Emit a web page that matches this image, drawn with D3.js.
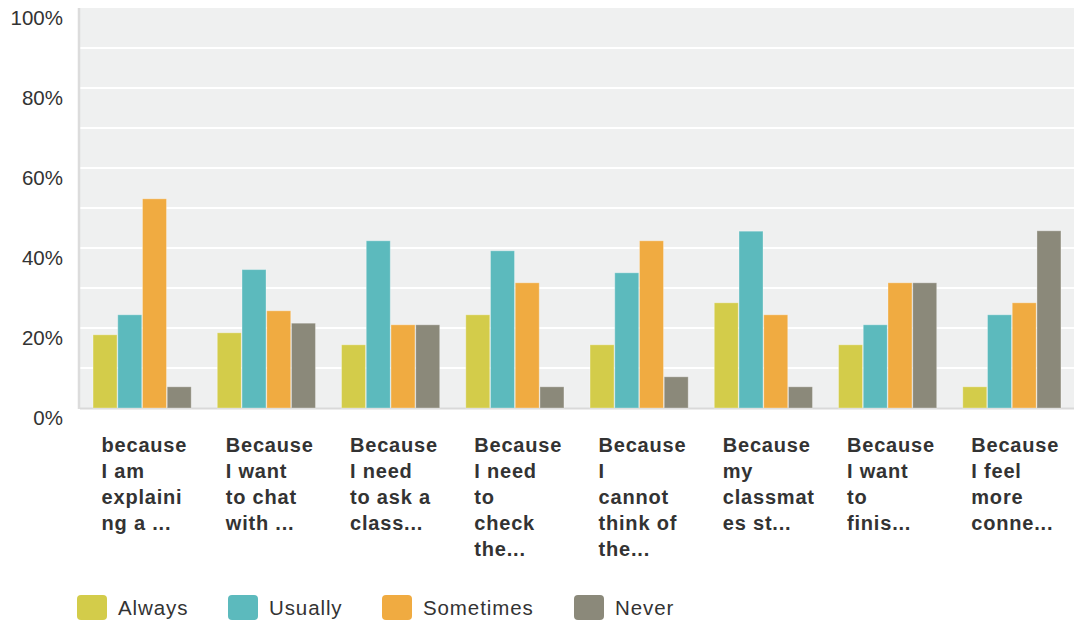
<!DOCTYPE html>
<html>
<head>
<meta charset="utf-8">
<script src="https://cdn.jsdelivr.net/npm/d3@7"></script>
<style>
  html, body { margin: 0; padding: 0; background: #ffffff; }
  svg { display: block; font-family: "Liberation Sans", Arial, Helvetica, sans-serif; }
</style>
</head>
<body>
<svg id="chart" width="1074" height="623"></svg>
<script>
// Survey reasons (wrapped label lines, as displayed)
const categoryLines = [
  ["because", "I am", "explaini", "ng a ..."],
  ["Because", "I want", "to chat", "with ..."],
  ["Because", "I need", "to ask a", "class..."],
  ["Because", "I need", "to", "check", "the..."],
  ["Because", "I", "cannot", "think of", "the..."],
  ["Because", "my", "classmat", "es st..."],
  ["Because", "I want", "to", "finis..."],
  ["Because", "I feel", "more", "conne..."]
];
const categories = categoryLines.map((d, i) => "q" + i);

const seriesNames = ["Always", "Usually", "Sometimes", "Never"];
const seriesColors = ["#d3cc4a", "#5cbabd", "#f0ab41", "#8b897a"];

// Percent of responses per reason
const always    = [18.3, 18.8, 15.8, 23.3, 15.8, 26.3, 15.8,  5.3];
const usually   = [23.3, 34.6, 41.8, 39.3, 33.8, 44.2, 20.8, 23.3];
const sometimes = [52.3, 24.3, 20.8, 31.3, 41.8, 23.3, 31.3, 26.3];
const never     = [ 5.3, 21.2, 20.8,  5.3,  7.8,  5.3, 31.3, 44.3];
const seriesValues = [always, usually, sometimes, never];

const yTicks = [0, 20, 40, 60, 80, 100];
const gridTicks = [10, 20, 30, 40, 50, 60, 70, 80, 90];

const svg = d3.select("#chart");
const plot = { left: 80, right: 1074, top: 8, bottom: 408 };

const x0 = d3.scaleBand()
  .domain(categories)
  .range([plot.left, plot.right])
  .paddingInner(0.21)
  .paddingOuter(0.105);

const x1 = d3.scaleBand()
  .domain(seriesNames)
  .range([0, x0.bandwidth()])
  .paddingInner(0.03);

const y = d3.scaleLinear().domain([0, 100]).range([plot.bottom, plot.top]);

// plot background
svg.append("rect")
  .attr("x", plot.left).attr("y", plot.top)
  .attr("width", plot.right - plot.left).attr("height", plot.bottom - plot.top)
  .attr("fill", "#eff0f0");

// horizontal gridlines
svg.append("g")
  .selectAll("line")
  .data(gridTicks)
  .join("line")
  .attr("x1", plot.left).attr("x2", plot.right)
  .attr("y1", d => y(d)).attr("y2", d => y(d))
  .attr("stroke", "#ffffff").attr("stroke-width", 2);

// y axis labels
const yAxis = d3.axisLeft(y)
  .tickValues(yTicks)
  .tickFormat(d => d + "%")
  .tickSize(0)
  .tickPadding(0);
const yG = svg.append("g").attr("transform", `translate(63,0)`).call(yAxis);
yG.select(".domain").remove();
yG.selectAll("text")
  .attr("font-size", 20.5)
  .attr("font-family", "'Liberation Sans', Arial, sans-serif")
  .attr("fill", "#333333")
  .attr("dy", "0.82em");

// axis lines
svg.append("line")
  .attr("x1", plot.left - 1).attr("x2", plot.left - 1)
  .attr("y1", plot.top).attr("y2", plot.bottom + 1)
  .attr("stroke", "#dcdcdc").attr("stroke-width", 2.5);
svg.append("line")
  .attr("x1", plot.left).attr("x2", plot.right)
  .attr("y1", plot.bottom + 0.5).attr("y2", plot.bottom + 0.5)
  .attr("stroke", "#d9d9d9").attr("stroke-width", 2);

// bars
const groups = svg.append("g")
  .selectAll("g")
  .data(categories)
  .join("g")
  .attr("transform", d => `translate(${x0(d)},0)`);

groups.selectAll("rect")
  .data((d, i) => seriesNames.map((s, j) => ({ s, j, v: seriesValues[j][i] })))
  .join("rect")
  .attr("x", d => x1(d.s))
  .attr("y", d => y(d.v))
  .attr("width", x1.bandwidth())
  .attr("height", d => y(0) - y(d.v))
  .attr("fill", d => seriesColors[d.j])
  .attr("stroke", "#ffffff")
  .attr("stroke-opacity", 0.3)
  .attr("stroke-width", 1);

// category labels
const labelG = svg.append("g");
categories.forEach((c, i) => {
  const t = labelG.append("text")
    .attr("x", x0(c) + 8.5)
    .attr("y", 452)
    .attr("font-size", 20)
    .attr("font-weight", "bold")
    .attr("letter-spacing", "0.8px")
    .attr("fill", "#333333");
  categoryLines[i].forEach((line, k) => {
    t.append("tspan")
      .attr("x", x0(c) + 8.5)
      .attr("y", 452 + k * 26)
      .text(line);
  });
});

// legend
const legendX = [77, 228, 382, 574];
const legend = svg.append("g");
seriesNames.forEach((s, i) => {
  legend.append("rect")
    .attr("x", legendX[i]).attr("y", 595)
    .attr("width", 30).attr("height", 25)
    .attr("rx", 4)
    .attr("fill", seriesColors[i]);
  legend.append("text")
    .attr("x", legendX[i] + 41).attr("y", 615)
    .attr("font-size", 20.5)
    .attr("letter-spacing", "0.9px")
    .attr("fill", "#333333")
    .text(s);
});
</script>
</body>
</html>
